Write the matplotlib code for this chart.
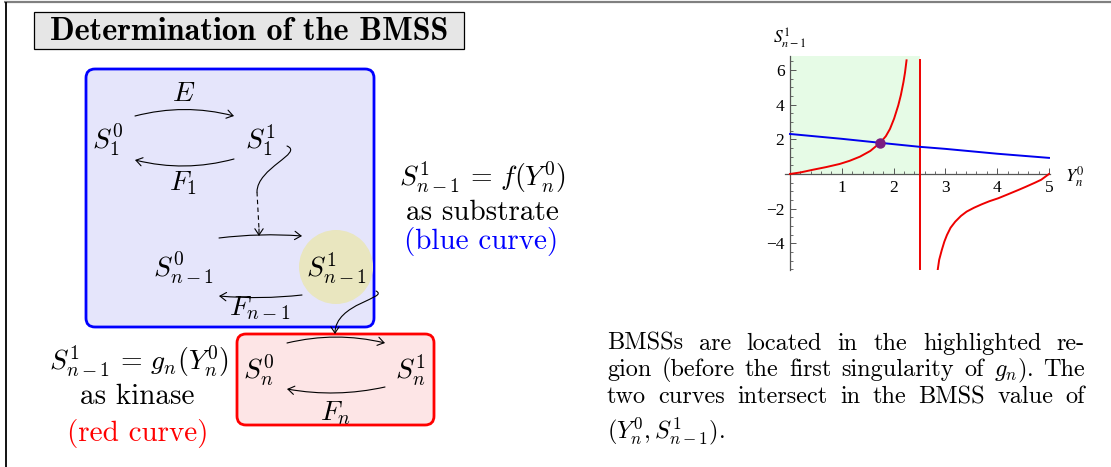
import matplotlib
matplotlib.use('Agg')
import matplotlib.pyplot as plt
from matplotlib.patches import FancyBboxPatch, Circle, FancyArrowPatch, Rectangle
from matplotlib.path import Path
from matplotlib.ticker import MultipleLocator

plt.rcParams['mathtext.fontset'] = 'cm'
plt.rcParams['font.family'] = 'cmr10'
plt.rcParams['axes.formatter.use_mathtext'] = True

# ---------------- data ----------------
blue_x = [0.0, 0.5, 1.0, 1.74, 2.5, 3.0, 3.5, 4.0, 4.5, 5.0]
blue_y = [2.31, 2.17, 2.03, 1.80, 1.57, 1.45, 1.31, 1.17, 1.05, 0.93]

red_left_x = [0.0, 0.2, 0.45, 0.7, 0.96, 1.15, 1.35, 1.55, 1.74, 1.85, 1.93, 2.01, 2.09, 2.14, 2.19, 2.22, 2.25]
red_left_y = [0.0, 0.09, 0.25, 0.40, 0.58, 0.76, 1.0, 1.33, 1.80, 2.18, 2.60, 3.20, 3.96, 4.55, 5.30, 5.85, 6.56]

red_right_x = [2.853, 2.88, 2.93, 2.98, 3.03, 3.1, 3.19, 3.3, 3.41, 3.55, 3.70, 3.85, 4.02, 4.2, 4.41, 4.55, 4.73, 4.85, 5.0]
red_right_y = [-5.50, -4.95, -4.39, -3.90, -3.52, -3.10, -2.75, -2.42, -2.17, -1.95, -1.75, -1.57, -1.40, -1.18, -0.92, -0.74, -0.50, -0.33, 0.0]

singularity_x = 2.5
bmss_x, bmss_y = 1.74, 1.80

x_ticks = [1, 2, 3, 4, 5]
x_tick_labels = ['1', '2', '3', '4', '5']
y_ticks = [-4, -2, 2, 4, 6]
y_tick_labels = ['\u22124', '\u22122', '2', '4', '6']

title = "Determination of the BMSS"
para_lines = [
    ["BMSSs", "are", "located", "in", "the", "highlighted", "re-"],
    ["gion", "(before", "the", "first", "singularity", "of", r"$g_n$).", "The"],
    ["two", "curves", "intersect", "in", "the", "BMSS", "value", "of"],
    [r"$(Y_n^0, S_{n-1}^1)$."],
]

# ---------------- figure ----------------
W, H = 1111, 467
fig = plt.figure(figsize=(W / 100, H / 100), dpi=100)
ax0 = fig.add_axes([0, 0, 1, 1])
ax0.set_xlim(0, W)
ax0.set_ylim(H, 0)
ax0.axis('off')
renderer = fig.canvas.get_renderer()

# frame lines
ax0.plot([4, W], [2, 2], color='#808080', lw=1.6, solid_capstyle='butt')
ax0.plot([5.5, 5.5], [2, H], color='black', lw=1.3, solid_capstyle='butt')

# title box
ax0.add_patch(Rectangle((34, 12), 430, 36.5, facecolor='#e6e6e6', edgecolor='black', lw=0.9))
t = ax0.text(249, 31, title, family='cmb10', fontsize=20, ha='center', va='center')
bw = t.get_window_extent(renderer).width
t.set_fontsize(20 * 398 / bw)

# boxes
ax0.add_patch(FancyBboxPatch((86, 69), 288, 258, boxstyle='round,pad=0,rounding_size=9',
                             facecolor='#e5e5fb', edgecolor='#0000ff', lw=2.0))
ax0.add_patch(FancyBboxPatch((237, 334), 197, 91, boxstyle='round,pad=0,rounding_size=9',
                             facecolor='#fde5e6', edgecolor='#ff0000', lw=2.0))
ax0.add_patch(Circle((336, 267), 37, facecolor='#e9e6bf', edgecolor='none'))

FS = 20
TFS = 21
def lab(x, y, s, **kw):
    ax0.text(x, y, s, fontsize=FS, ha='center', va='center', **kw)

lab(108, 140, r'$S_1^0$')
lab(260, 140, r'$S_1^1$')
lab(184, 94, r'$E$')
lab(183, 183, r'$F_1$')
lab(183, 268, r'$S_{n-1}^0$')
lab(336, 268, r'$S_{n-1}^1$')
lab(260, 308, r'$F_{n-1}$')
lab(259, 370, r'$S_n^0$')
lab(410, 370, r'$S_n^1$')
lab(336, 413, r'$F_n$')

AST = '->,head_length=0.45,head_width=0.3'
def arr(p0, p1, rad):
    ax0.add_patch(FancyArrowPatch(p0, p1, connectionstyle=f'arc3,rad={rad}', arrowstyle=AST,
                                  mutation_scale=10, lw=0.8, color='black', shrinkA=0, shrinkB=0))

arr((135, 116), (234, 116), -0.13)
arr((234, 159), (135, 160), -0.13)
arr((219, 238), (302, 236), -0.05)
arr((302, 295), (219, 296), -0.05)
arr((287, 343), (385, 343), -0.12)
arr((385, 387), (287, 389), -0.10)

# wavy arrow S1^1 -> second row
verts = [(287, 146), (304, 153), (257, 168), (257, 192)]
ax0.add_patch(FancyArrowPatch(path=Path(verts, [Path.MOVETO, Path.CURVE4, Path.CURVE4, Path.CURVE4]),
                              arrowstyle='-', lw=0.8, color='black'))
ax0.plot([257, 259], [192, 229], color='black', lw=0.8, dashes=(4, 3))
arr((259, 229), (259, 236), 0)

# arrow S_{n-1}^1 -> red box
verts = [(376, 291), (390, 298), (335, 303), (335, 334)]
ax0.add_patch(FancyArrowPatch(path=Path(verts, [Path.MOVETO, Path.CURVE4, Path.CURVE4, Path.CURVE4]),
                              arrowstyle=AST, mutation_scale=10, lw=0.8, color='black'))

# side texts
ax0.text(482, 177, r'$S_{n-1}^1 \,=\, f(Y_n^0)$', fontsize=FS, ha='center', va='center')
ax0.text(482, 213, 'as substrate', fontsize=TFS, ha='center', va='center')
ax0.text(481, 242, '(blue curve)', fontsize=TFS, ha='center', va='center', color='#0000ff')

ax0.text(139, 361, r'$S_{n-1}^1 \,=\, g_n(Y_n^0)$', fontsize=FS, ha='center', va='center')
ax0.text(137, 397, 'as kinase', fontsize=TFS, ha='center', va='center')
ax0.text(138, 433, '(red curve)', fontsize=TFS, ha='center', va='center', color='#ff0000')

# paragraph (justified)
PFS = 17.5
baselines = [350, 376, 403, 438]
x_left, x_right = 607, 1085
for i, (words, yb) in enumerate(zip(para_lines, baselines)):
    texts = [ax0.text(0, yb, w, fontsize=PFS, ha='left', va='baseline') for w in words]
    widths = [tt.get_window_extent(renderer).width for tt in texts]
    if i < 3 and len(words) > 1:
        gap = (x_right - x_left - sum(widths)) / (len(words) - 1)
    else:
        gap = 0.333 * PFS * 100 / 72
    x = x_left
    for tt, w in zip(texts, widths):
        tt.set_x(x)
        x += w + gap

# ---------------- chart ----------------
px_per_x = 51.8
px_per_y = 17.33
x0_px, y0_px = 790, 174
xmin, xmax = -0.1, 5.02
ymin, ymax = -5.55, 6.8
left = (x0_px + xmin * px_per_x) / W
right = (x0_px + xmax * px_per_x) / W
top = (y0_px - ymax * px_per_y)
bottom = (y0_px - ymin * px_per_y)
ax = fig.add_axes([left, (H - bottom) / H, right - left, (bottom - top) / H])
ax.set_xlim(xmin, xmax)
ax.set_ylim(ymin, ymax)
ax.patch.set_alpha(0)

ax.fill_between([0, singularity_x], 0, ymax, color='#e6fbe6', lw=0, zorder=0)
ax.plot(red_left_x, red_left_y, color='#ee0000', lw=1.4, zorder=3)
ax.plot(red_right_x, red_right_y, color='#ee0000', lw=1.4, zorder=3)
ax.plot([singularity_x, singularity_x], [red_right_y[0], red_left_y[-1]], color='#ee0000', lw=1.4, zorder=3)
ax.plot(blue_x, blue_y, color='#0000ee', lw=1.4, zorder=4)
ax.plot([bmss_x], [bmss_y], 'o', ms=6.5, color='#7a1c80', zorder=5)

for s in ['top', 'right']:
    ax.spines[s].set_visible(False)
ax.spines['left'].set_position(('data', 0))
ax.spines['bottom'].set_position(('data', 0))
for s in ['left', 'bottom']:
    ax.spines[s].set_color('#555555')
    ax.spines[s].set_linewidth(0.9)
    ax.spines[s].set_zorder(2)

ax.set_xticks(x_ticks, labels=x_tick_labels)
ax.set_yticks(y_ticks, labels=y_tick_labels)
ax.xaxis.set_minor_locator(MultipleLocator(0.2))
ax.yaxis.set_minor_locator(MultipleLocator(0.5))
ax.tick_params(which='major', direction='in', length=4, width=0.7, color='#555555', labelsize=12.5, pad=4)
ax.tick_params(which='minor', direction='in', length=2, width=0.6, color='#555555')
for lbl in ax.get_xticklabels() + ax.get_yticklabels():
    lbl.set_family('Liberation Serif')

ax.text(0.0, 7.85, r'$S^1_{n-1}$', fontsize=12.5, ha='center', va='center', math_fontfamily='stix', clip_on=False)
ax.text(5.5, -0.15, r'$Y^0_n$', fontsize=13, ha='center', va='center', math_fontfamily='stix', clip_on=False)

fig.savefig('out.png', dpi=100)
